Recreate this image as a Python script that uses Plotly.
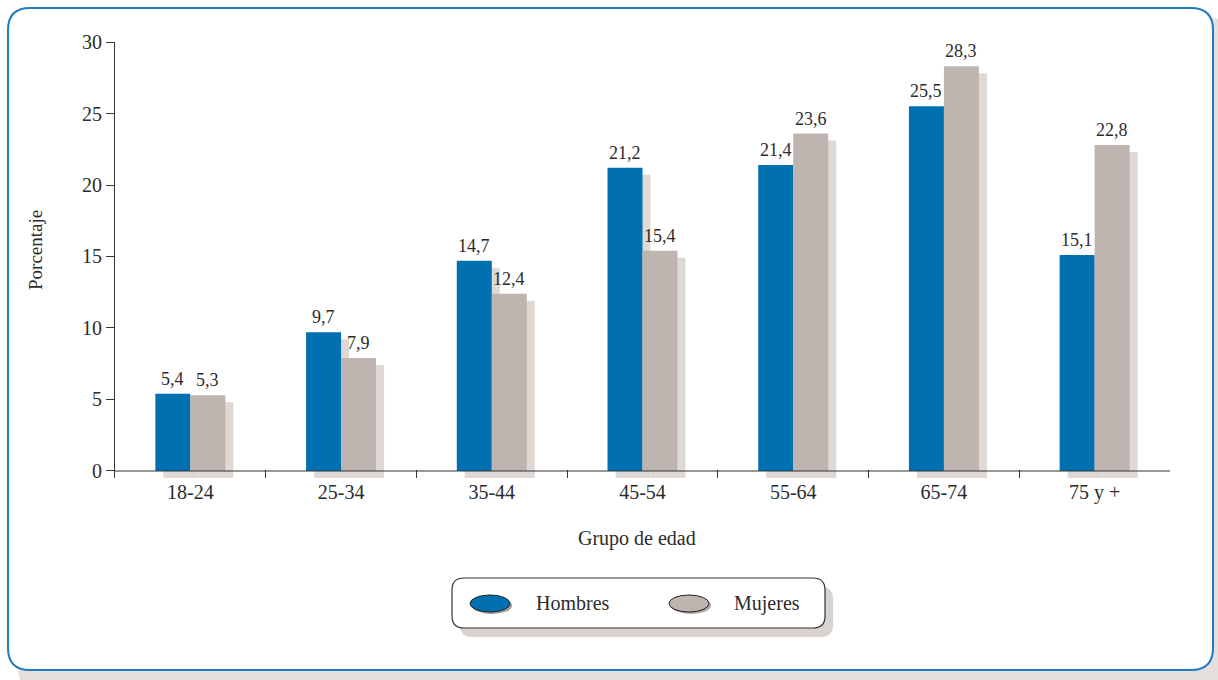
import plotly.graph_objects as go

# Data
grupos = ["18-24", "25-34", "35-44", "45-54", "55-64", "65-74", "75 y +"]
hombres = [5.4, 9.7, 14.7, 21.2, 21.4, 25.5, 15.1]
mujeres = [5.3, 7.9, 12.4, 15.4, 23.6, 28.3, 22.8]
y_ticks = [0, 5, 10, 15, 20, 25, 30]

# Styling
AZUL = "#0070b1"
GRIS = "#bfb5b0"
SOMBRA = "#dfd9d6"
TEXTO = "#2b2b2b"
FONT = "Liberation Serif"

# Page / plot-area geometry in pixels
W, H = 1218, 680
L, R, T, B = 115, 1170, 42, 478
PW, PH = R - L, B - T


def px(x):
    return (x - L) / PW


def py(y):
    return (B - y) / PH


def rrect(x0, y0, x1, y1, r):
    pts = [
        ("M", x0 + r, y0), ("L", x1 - r, y0), ("Q", x1, y0, x1, y0 + r),
        ("L", x1, y1 - r), ("Q", x1, y1, x1 - r, y1), ("L", x0 + r, y1),
        ("Q", x0, y1, x0, y1 - r), ("L", x0, y0 + r), ("Q", x0, y0, x0 + r, y0),
    ]
    out = []
    for p in pts:
        cmd, coords = p[0], p[1:]
        xy = []
        for i in range(0, len(coords), 2):
            xy.append(f"{px(coords[i]):.5f},{py(coords[i + 1]):.5f}")
        out.append(cmd + " " + " ".join(xy))
    return " ".join(out) + " Z"


def fmt(v):
    return f"{v:.1f}".replace(".", ",")


bw = 35 / (PW / len(grupos))      # bar width in category units
sx = 8 / (PW / len(grupos))       # shadow horizontal shift
sy = 7 / (PH / 30.55)             # shadow vertical shift

fig = go.Figure()

# Drop shadows behind each pair of bars
fig.add_trace(go.Bar(x=grupos, y=hombres, base=-sy, width=bw, offset=-bw + sx,
                     marker=dict(color=SOMBRA, line_width=0), hoverinfo="skip",
                     showlegend=False))
fig.add_trace(go.Bar(x=grupos, y=mujeres, base=-sy, width=bw, offset=sx,
                     marker=dict(color=SOMBRA, line_width=0), hoverinfo="skip",
                     showlegend=False))

# Main bars
fig.add_trace(go.Bar(x=grupos, y=hombres, name="Hombres", width=bw, offset=-bw,
                     marker=dict(color=AZUL, line_width=0), showlegend=False))
fig.add_trace(go.Bar(x=grupos, y=mujeres, name="Mujeres", width=bw, offset=0,
                     marker=dict(color=GRIS, line_width=0), showlegend=False))

shapes = [
    # outer frame shadow and frame
    dict(type="path", xref="paper", yref="paper", path=rrect(18, 18, 1232, 690, 22),
         fillcolor="#e4dfdc", line_width=0, layer="below"),
    dict(type="path", xref="paper", yref="paper", path=rrect(8, 8, 1213, 670, 22),
         fillcolor="white", line=dict(color="#1f7bbf", width=2), layer="below"),
    # x axis line at zero
    dict(type="line", xref="paper", yref="y", x0=0, x1=1, y0=0, y1=0,
         line=dict(color="#333333", width=1.2), layer="above"),
    # legend box with shadow
    dict(type="path", xref="paper", yref="paper", path=rrect(460, 587, 833, 637, 12),
         fillcolor="#d9d3d0", line_width=0, layer="above"),
    dict(type="path", xref="paper", yref="paper", path=rrect(452, 578, 825, 628, 12),
         fillcolor="white", line=dict(color="#333333", width=1.2), layer="above"),
    # legend swatches
    dict(type="circle", xref="paper", yref="paper", x0=px(472), x1=px(512),
         y0=py(597), y1=py(614), fillcolor="#9a9a9a", line_width=0, layer="above"),
    dict(type="circle", xref="paper", yref="paper", x0=px(470), x1=px(510),
         y0=py(595), y1=py(612), fillcolor=AZUL, line=dict(color="#222", width=1),
         layer="above"),
    dict(type="circle", xref="paper", yref="paper", x0=px(671), x1=px(711),
         y0=py(597), y1=py(614), fillcolor="#a8a8a8", line_width=0, layer="above"),
    dict(type="circle", xref="paper", yref="paper", x0=px(669), x1=px(709),
         y0=py(595), y1=py(612), fillcolor=GRIS, line=dict(color="#222", width=1),
         layer="above"),
]

annotations = [
    dict(text="Hombres", xref="paper", yref="paper", x=px(534), y=py(603),
         xanchor="left", yanchor="middle", showarrow=False,
         font=dict(family=FONT, size=20, color=TEXTO)),
    dict(text="Mujeres", xref="paper", yref="paper", x=px(732), y=py(603),
         xanchor="left", yanchor="middle", showarrow=False,
         font=dict(family=FONT, size=20, color=TEXTO)),
    dict(text="Porcentaje", xref="paper", yref="paper", x=px(35), y=py(250),
         xanchor="center", yanchor="middle", textangle=-90, showarrow=False,
         font=dict(family=FONT, size=19, color=TEXTO)),
    dict(text="Grupo de edad", xref="paper", yref="paper", x=px(637), y=py(538),
         xanchor="center", yanchor="middle", showarrow=False,
         font=dict(family=FONT, size=20, color=TEXTO)),
]

# Value labels above each bar
half = 35 / 2
for serie, shift in ((hombres, -half), (mujeres, half)):
    for g, v in zip(grupos, serie):
        annotations.append(dict(
            text=fmt(v), x=g, y=v, xref="x", yref="y", xshift=shift, yshift=3,
            xanchor="center", yanchor="bottom", showarrow=False,
            font=dict(family=FONT, size=18, color=TEXTO)))

fig.update_layout(
    width=W, height=H,
    margin=dict(l=L, r=W - R, t=T, b=H - B, pad=0),
    paper_bgcolor="white", plot_bgcolor="rgba(0,0,0,0)",
    barmode="overlay",
    showlegend=False,
    shapes=shapes, annotations=annotations,
    xaxis=dict(
        type="category", range=[-0.5, len(grupos) - 0.5],
        showgrid=False, zeroline=False, showline=False,
        ticks="inside", ticklen=8, tickcolor="#333333", tickwidth=1.2,
        tickson="boundaries",
        tickfont=dict(family=FONT, size=20, color=TEXTO),
    ),
    yaxis=dict(
        range=[-sy, 30], tickvals=y_ticks, showgrid=False, zeroline=False,
        showline=True, linecolor="#333333", linewidth=1.2,
        ticks="outside", ticklen=8, tickcolor="#333333", tickwidth=1.2,
        tickfont=dict(family=FONT, size=20, color=TEXTO),
    ),
)

fig.write_html("out.html")
